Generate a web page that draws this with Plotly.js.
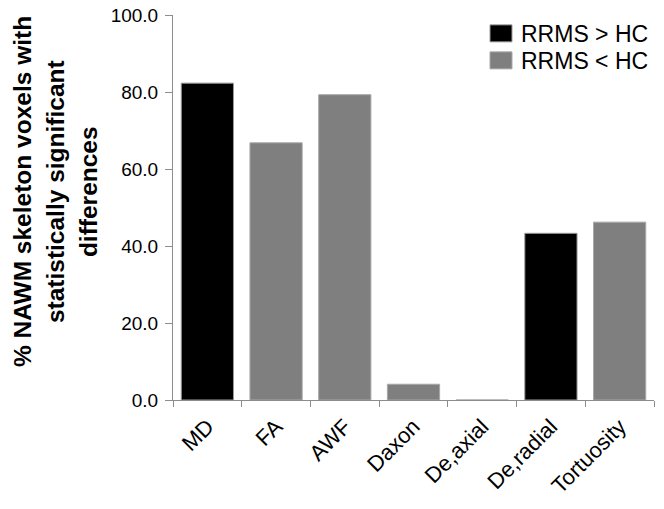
<!DOCTYPE html>
<html>
<head>
<meta charset="utf-8">
<script src="https://cdn.plot.ly/plotly-3.0.1.min.js"></script>
<style>html,body{margin:0;padding:0;background:#fff;}#chart{width:664px;height:509px;}</style>
</head>
<body>
<div id="chart"></div>
<script>
const categories = ["MD", "FA", "AWF", "Daxon", "De,axial", "De,radial", "Tortuosity"];
const greaterCats = ["MD", "De,radial"];
const greaterVals = [82.3, 43.3];
const lesserCats = ["FA", "AWF", "Daxon", "De,axial", "Tortuosity"];
const lesserVals = [66.8, 79.3, 4.1, 0, 46.2];
const seriesNames = ["RRMS > HC", "RRMS < HC"];
const yTicks = [0, 20, 40, 60, 80, 100];
const yTickText = ["0.0", "20.0", "40.0", "60.0", "80.0", "100.0"];
const titleLines = ["% NAWM skeleton voxels with", "statistically significant", "differences"];

const font = "Liberation Sans, Arial, sans-serif";
const data = [
  {type: "bar", x: greaterCats, y: greaterVals, name: seriesNames[0],
   marker: {color: "#000000", line: {color: "#9a9a9a", width: 1}}},
  {type: "bar", x: lesserCats, y: lesserVals, name: seriesNames[1],
   marker: {color: "#7f7f7f", line: {color: "#a8a8a8", width: 1}}}
];
const titleX = [22, 55, 88];
const annotations = titleLines.map((t, i) => ({
  text: "<b>" + t + "</b>", textangle: -90,
  xref: "paper", yref: "paper", x: (titleX[i] - 173) / 481, y: 0.54,
  xanchor: "center", yanchor: "middle", showarrow: false,
  font: {size: 24.5, family: font, color: "#000"}
}));
const layout = {
  width: 664, height: 509,
  margin: {l: 173, r: 10, t: 15, b: 109, autoexpand: false},
  paper_bgcolor: "#fff", plot_bgcolor: "#fff",
  barmode: "overlay", bargap: 0.24,
  font: {family: font, color: "#000"},
  xaxis: {type: "category", categoryorder: "array", categoryarray: categories,
    tickangle: -45, tickfont: {size: 22}, showline: true, linecolor: "#8c8c8c", linewidth: 1,
    ticks: "outside", tickson: "boundaries", ticklen: 6, tickcolor: "#8c8c8c",
    showgrid: false, zeroline: false, ticklabelstandoff: 4},
  yaxis: {range: [0, 100], tickvals: yTicks, ticktext: yTickText, tickfont: {size: 19},
    showline: true, linecolor: "#8c8c8c", linewidth: 1, ticks: "outside", ticklen: 7,
    tickcolor: "#8c8c8c", showgrid: false, zeroline: false, ticklabelstandoff: 3},
  legend: {x: 1, xanchor: "right", y: 1.008, yanchor: "top", font: {size: 23},
    bgcolor: "rgba(0,0,0,0)", tracegroupgap: 0},
  annotations: annotations,
  showlegend: true
};
Plotly.newPlot("chart", data, layout, {displayModeBar: false, staticPlot: true}).then(() => {
  document.querySelectorAll(".legendpoints path").forEach(p => {
    p.setAttribute("d", "M11,8.5H-11V-8.5H11Z");
  });
  const items = document.querySelectorAll(".legend .traces");
  if (items.length === 2) {
    const m = /translate\(([-\d.]+),\s*([-\d.]+)\)/.exec(items[0].getAttribute("transform") || "");
    if (m) {
      const x0 = parseFloat(m[1]), y0 = parseFloat(m[2]);
      items[1].setAttribute("transform", "translate(" + x0 + "," + (y0 + 27) + ")");
    }
  }
});
</script>
</body>
</html>
